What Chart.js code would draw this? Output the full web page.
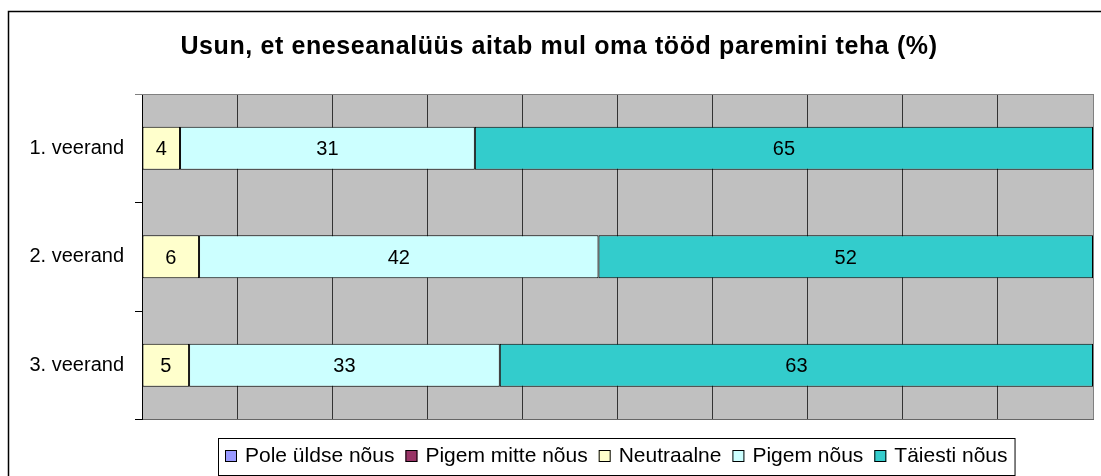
<!DOCTYPE html>
<html>
<head>
<meta charset="utf-8">
<script src="https://cdn.jsdelivr.net/npm/chart.js@4/dist/chart.umd.min.js"></script>
<style>
  html, body { margin: 0; padding: 0; background: #fff; }
  #wrap { width: 1101px; height: 476px; overflow: hidden; }
</style>
</head>
<body>
<div id="wrap"><canvas id="graafik" width="1101" height="476"></canvas></div>
<script>
// Andmed (loetud pildilt)
const pealkiri = 'Usun, et eneseanalüüs aitab mul oma tööd paremini teha (%)';
const kategooriad = ['1. veerand', '2. veerand', '3. veerand'];
const seeriaNimed = ['Pole üldse nõus', 'Pigem mitte nõus', 'Neutraalne', 'Pigem nõus', 'Täiesti nõus'];
const poleUldseNous = [0, 0, 0];
const pigemMitteNous = [0, 0, 0];
const neutraalne = [4, 6, 5];
const pigemNous = [31, 42, 33];
const taiestiNous = [65, 52, 63];
const seeriaVarvid = ['#9999ff', '#993366', '#ffffcc', '#ccffff', '#33cccc'];

const FONT = "'Liberation Sans', Arial, sans-serif";
const seeriad = [poleUldseNous, pigemMitteNous, neutraalne, pigemNous, taiestiNous];

// 100% virnastatud tulp: iga rida jagatakse oma summaga
const ridadeSummad = kategooriad.map((k, i) => seeriad.reduce((s, arr) => s + arr[i], 0));
const protsendid = seeriad.map(arr => arr.map((v, i) => v / ridadeSummad[i] * 100));

// Taust, raam ja joonistusala hall pind
const taustPlugin = {
    id: 'taust',
    beforeDraw(chart) {
        const { ctx, chartArea: a } = chart;
        ctx.save();
        ctx.fillStyle = '#fff';
        ctx.fillRect(0, 0, chart.width, chart.height);
        // välimine raam (parem ja alumine serv jäävad pildist välja)
        ctx.strokeStyle = '#000';
        ctx.lineWidth = 1.5;
        ctx.beginPath();
        ctx.moveTo(8.5, chart.height + 5);
        ctx.lineTo(8.5, 11.5);
        ctx.lineTo(chart.width + 5, 11.5);
        ctx.stroke();
        // hall joonistusala
        ctx.fillStyle = '#c0c0c0';
        ctx.fillRect(a.left, a.top, a.right - a.left, a.bottom - a.top);
        ctx.restore();
    },
    beforeDatasetsDraw(chart) {
        const { ctx, chartArea: a } = chart;
        ctx.save();
        ctx.strokeStyle = '#808080';
        ctx.lineWidth = 1;
        ctx.beginPath();
        ctx.moveTo(a.left - 7, Math.round(a.top) + 0.5);
        ctx.lineTo(a.right, Math.round(a.top) + 0.5);
        ctx.stroke();
        ctx.restore();
    }
};

// Väärtused tulpade sees
const siltPlugin = {
    id: 'sildid',
    afterDatasetsDraw(chart) {
        const ctx = chart.ctx;
        ctx.save();
        ctx.font = '20px ' + FONT;
        ctx.fillStyle = '#000';
        ctx.textAlign = 'center';
        ctx.textBaseline = 'alphabetic';
        chart.data.datasets.forEach((ds, i) => {
            const meta = chart.getDatasetMeta(i);
            meta.data.forEach((bar, j) => {
                const v = seeriad[i][j];
                if (!v) return;
                const x = (bar.x + bar.base) / 2;
                ctx.fillText(String(v), x, bar.y + 7);
            });
        });
        ctx.restore();
    }
};

// Pealkiri ja legend
const legendPlugin = {
    id: 'pealkiriLegend',
    afterDraw(chart) {
        const ctx = chart.ctx;
        ctx.save();
        ctx.fillStyle = '#000';
        ctx.font = 'bold 25px ' + FONT;
        ctx.letterSpacing = '0.6px';
        ctx.textAlign = 'center';
        ctx.textBaseline = 'alphabetic';
        ctx.fillText(pealkiri, 559, 54);
        ctx.letterSpacing = '0px';

        // legend
        ctx.font = '21px ' + FONT;
        ctx.textAlign = 'left';
        const kastVasak = 218, kastYlal = 438, kastAll = 475;
        let x = kastVasak + 7;
        const kirjed = chart.data.datasets.map(ds => ({ nimi: ds.label, varv: ds.backgroundColor }));
        const algused = [];
        kirjed.forEach((k, i) => {
            algused.push(x);
            x += 12 + 8 + ctx.measureText(k.nimi).width + (i < kirjed.length - 1 ? 11 : 0);
        });
        const kastParem = x + 7;
        ctx.fillStyle = '#fff';
        ctx.fillRect(kastVasak, kastYlal, kastParem - kastVasak, kastAll - kastYlal);
        ctx.strokeStyle = '#000';
        ctx.lineWidth = 1;
        ctx.strokeRect(kastVasak + 0.5, kastYlal + 0.5, kastParem - kastVasak, kastAll - kastYlal);
        kirjed.forEach((k, i) => {
            const sx = algused[i];
            ctx.fillStyle = k.varv;
            ctx.fillRect(sx, 450, 12, 12);
            ctx.strokeStyle = '#000';
            ctx.strokeRect(sx + 0.5, 450.5, 11, 11);
            ctx.fillStyle = '#000';
            ctx.fillText(k.nimi, sx + 20, 462);
        });
        ctx.restore();
    }
};

const ctx = document.getElementById('graafik').getContext('2d');
const graafik = new Chart(ctx, {
    type: 'bar',
    data: {
        labels: kategooriad,
        datasets: seeriaNimed.map((nimi, i) => ({
            label: nimi,
            data: protsendid[i],
            backgroundColor: seeriaVarvid[i],
            borderColor: '#000',
            borderWidth: 1,
            borderSkipped: false,
            barPercentage: 0.395,
            categoryPercentage: 1.0
        }))
    },
    options: {
        indexAxis: 'y',
        responsive: false,
        animation: false,
        layout: { padding: { left: 0, top: 94, right: 8, bottom: 56.5 } },
        plugins: {
            legend: { display: false },
            title: { display: false },
            tooltip: { enabled: false }
        },
        scales: {
            x: {
                stacked: true,
                min: 0,
                max: 100,
                ticks: { display: false, stepSize: 10 },
                grid: {
                    drawTicks: false,
                    lineWidth: 1,
                    color: c => (c.tick && c.tick.value === 100) ? '#808080' : '#333'
                },
                border: { display: true, color: '#666' },
                afterFit: s => { s.height = 0; }
            },
            y: {
                stacked: true,
                ticks: {
                    color: '#000',
                    font: { family: FONT, size: 20 },
                    padding: 11
                },
                grid: {
                    drawOnChartArea: false,
                    drawTicks: true,
                    tickLength: 7,
                    color: '#000'
                },
                border: { display: true, color: '#000' },
                afterFit: s => { s.width = 142; }
            }
        }
    },
    plugins: [taustPlugin, siltPlugin, legendPlugin]
});
</script>
</body>
</html>
